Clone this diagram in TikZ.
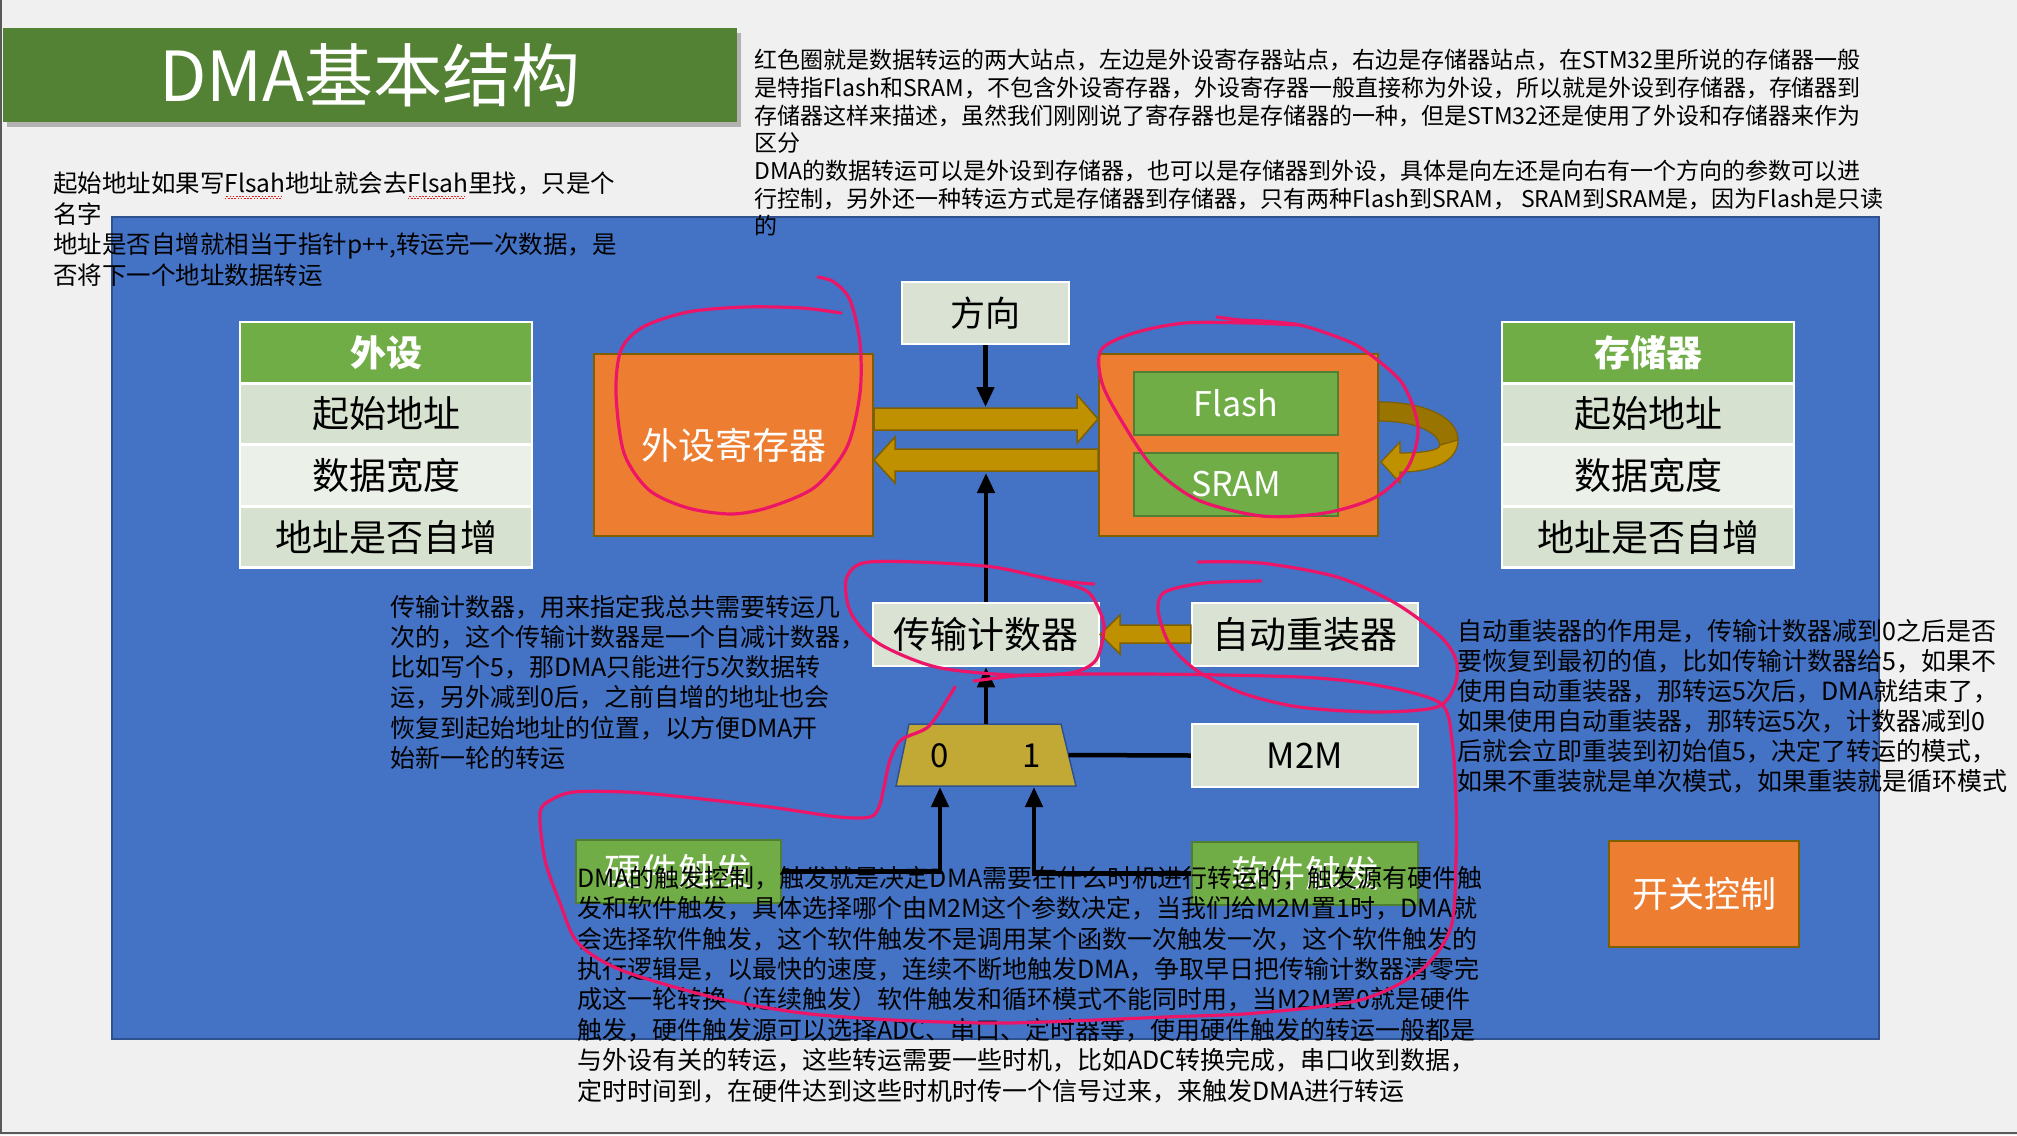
\documentclass[tikz,border=0pt]{standalone}
\usepackage{fontspec}
\setmainfont{Noto Sans CJK SC}
\usetikzlibrary{arrows.meta}
\definecolor{bgc}{HTML}{F0F0F0}
\definecolor{mainblue}{HTML}{4472C4}
\definecolor{blueborder}{HTML}{2F528F}
\definecolor{orangec}{HTML}{ED7D31}
\definecolor{brownb}{HTML}{7F6000}
\definecolor{greenc}{HTML}{70AD47}
\definecolor{greenb}{HTML}{507E32}
\definecolor{titleg}{HTML}{548235}
\definecolor{lightg}{HTML}{DAE3D3}
\definecolor{rowa}{HTML}{D6E2CF}
\definecolor{rowb}{HTML}{EBF0E8}
\definecolor{goldc}{HTML}{BF9000}
\definecolor{goldd}{HTML}{9A7400}
\definecolor{muxc}{HTML}{C2A936}
\definecolor{redpen}{HTML}{EC1567}
\definecolor{sqred}{HTML}{E02020}
\newsavebox\sqbox
\newcommand\sqg[1]{\sbox\sqbox{#1}\rlap{\textcolor{sqred}{\raisebox{-6pt}{\leaders\hbox{\rule{1.6pt}{1pt}\raisebox{1.4pt}{\rule{1.6pt}{1pt}}}\hskip\wd\sqbox}}}#1}
\begin{document}
\begin{tikzpicture}[x=1pt,y=-1pt,
  lbox/.style={draw=white,line width=2.5,fill=lightg,inner sep=0,minimum width=226,minimum height=63,font=\fontsize{37}{40}\selectfont},
  obox/.style={draw=brownb,line width=2,fill=orangec,inner sep=0,text=white},
  gbox/.style={draw=greenb,line width=2,fill=greenc,inner sep=0,text=white},
  cell/.style={draw=white,line width=2.5,inner sep=0,minimum width=292,minimum height=61,font=\fontsize{37}{40}\selectfont},
  hcell/.style={cell,fill=greenc,text=white,font=\fontsize{36}{40}\selectfont\bfseries},
  para/.style={anchor=north west,align=left,inner sep=0,text=black},
  blk/.style={line width=4.5,draw=black},
  arr/.style={blk,-{Triangle[length=20pt,width=17pt]}},
  band/.style={fill=goldc,draw=brownb,line width=1.5,line join=miter},
  pen/.style={draw=redpen,line width=3.2,line cap=round,line join=round},
]
\useasboundingbox (0,0) rectangle (2017,1135);
\fill[bgc] (0,0) rectangle (2017,1135);
\draw[black!65,line width=2] (1,0) -- (1,1133) -- (2017,1133);

% title
\fill[black!30] (7,33) rectangle (741,127);
\node[fill=titleg,minimum width=734,minimum height=94,inner sep=0,text=white,font=\fontsize{69}{80}\selectfont] (title) at (370,75) {DMA基本结构};

% main panel
\node[fill=mainblue,draw=blueborder,line width=1.5,minimum width=1767,minimum height=822,inner sep=0] (panel) at (995.5,628) {};

% left table
\node[hcell] (lt0) at (386,352.5) {外设};
\node[cell,fill=rowa] (lt1) at (386,414) {起始地址};
\node[cell,fill=rowb] (lt2) at (386,475.5) {数据宽度};
\node[cell,fill=rowa] (lt3) at (386,537) {地址是否自增};
% right table
\node[hcell] (rt0) at (1648,352.5) {存储器};
\node[cell,fill=rowa] (rt1) at (1648,414) {起始地址};
\node[cell,fill=rowb] (rt2) at (1648,475.5) {数据宽度};
\node[cell,fill=rowa] (rt3) at (1648,537) {地址是否自增};

% boxes
\node[obox,minimum width=279,minimum height=182,font=\fontsize{37}{40}\selectfont] (perreg) at (733.5,445) {外设寄存器};
\node[lbox,minimum width=167,minimum height=62,font=\fontsize{35}{40}\selectfont] (dir) at (985.5,313) {方向};
\node[obox,minimum width=279,minimum height=182] (mem) at (1238.5,445) {};
\node[gbox,minimum width=204,minimum height=63,font=\fontsize{34}{40}\selectfont] (flash) at (1236,403.5) {Flash};
\node[gbox,minimum width=204,minimum height=63,font=\fontsize{34}{40}\selectfont] (sram) at (1236,484.5) {SRAM};
\node[lbox] (counter) at (986,634.5) {传输计数器};
\node[lbox] (reload) at (1305,634.5) {自动重装器};
\node[lbox,font=\fontsize{35}{40}\selectfont] (m2m) at (1305,755.5) {M2M};
\node[gbox,minimum width=205,minimum height=63,font=\fontsize{37}{40}\selectfont] (hw) at (678.5,871.5) {硬件触发};
\node[gbox,minimum width=226,minimum height=63,font=\fontsize{37}{40}\selectfont] (sw) at (1305,873.5) {软件触发};
\node[obox,minimum width=190,minimum height=106,font=\fontsize{36}{40}\selectfont] (switch) at (1704,894) {开关控制};

% block arrows
\filldraw[band] (perreg.east |- 0,408) -- (1077,408) -- (1077,395) -- (mem.west |- 0,419) -- (1077,443) -- (1077,430) -- (perreg.east |- 0,430) -- cycle;
\filldraw[band] (mem.west |- 0,449) -- (895,449) -- (895,437) -- (perreg.east |- 0,460) -- (895,483) -- (895,471) -- (mem.west |- 0,471) -- cycle;
\filldraw[band] (reload.west |- 0,625) -- (1120,625) -- (1120,615) -- (counter.east) -- (1120,654) -- (1120,643) -- (reload.west |- 0,643) -- cycle;
% curved arrow on memory
\filldraw[fill=goldd,draw=brownb,line width=1.2] (1379,402) .. controls (1430,402) and (1458,420) .. (1458,440) -- (1440,445) .. controls (1438,432) and (1415,421) .. (1379,421) -- cycle;
\filldraw[band,line width=1.2] (1458,440) .. controls (1458,460) and (1435,472) .. (1400,472) -- (1400,483) -- (1381,462) -- (1400,442) -- (1400,453) .. controls (1425,453) and (1440,450) .. (1440,445) -- cycle;

% mux
\filldraw[fill=muxc,draw=blueborder,line width=1.5] (909,724) -- (1061,724) -- (1076,786) -- (896,786) -- cycle;
\coordinate (muxtop) at (986,724);
\coordinate (muxright) at (1068.5,755);
\coordinate (mux0) at (940,787);
\coordinate (mux1) at (1034,787);
\node[font=\fontsize{33}{36}\selectfont,inner sep=0] (m0) at (940,756) {0};
\node[font=\fontsize{33}{36}\selectfont,inner sep=0] (m1) at (1032,756) {1};

% connectors
\coordinate (rtop) at (985.5,407);
\coordinate (lbot) at (986,473);
\draw[arr] (dir.south) -- (rtop);
\draw[arr] (counter.north) -- (lbot);
\draw[arr] (muxtop) -- (counter.south);
\draw[blk] (muxright) -- (m2m.west);
\draw[arr] (hw.east) -| (mux0);
\draw[arr] (sw.west) -| (mux1);

% paragraphs
\node[para,font=\fontsize{23}{27.7}\selectfont] (ptop) at (754,49) {红色圈就是数据转运的两大站点，左边是外设寄存器站点，右边是存储器站点，在STM32里所说的存储器一般\\是特指Flash和SRAM，不包含外设寄存器，外设寄存器一般直接称为外设，所以就是外设到存储器，存储器到\\存储器这样来描述，虽然我们刚刚说了寄存器也是存储器的一种，但是STM32还是使用了外设和存储器来作为\\区分\\DMA的数据转运可以是外设到存储器，也可以是存储器到外设，具体是向左还是向右有一个方向的参数可以进\\行控制，另外还一种转运方式是存储器到存储器，只有两种Flash到SRAM， SRAM到SRAM是，因为Flash是只读\\的};
\node[para,font=\fontsize{24.5}{30.4}\selectfont] (pleft) at (53,172) {起始地址如果写\sqg{Flsah}地址就会去\sqg{Flsah}里找，只是个\\名字\\地址是否自增就相当于指针p++,转运完一次数据，是\\否将下一个地址数据转运};
\node[para,font=\fontsize{25}{30.2}\selectfont] (pcount) at (390,595) {传输计数器，用来指定我总共需要转运几\\次的，这个传输计数器是一个自减计数器，\\比如写个5，那DMA只能进行5次数据转\\运，另外减到0后，之前自增的地址也会\\恢复到起始地址的位置，以方便DMA开\\始新一轮的转运};
\node[para,font=\fontsize{25}{30.1}\selectfont] (preload) at (1457,619) {自动重装器的作用是，传输计数器减到0之后是否\\要恢复到最初的值，比如传输计数器给5，如果不\\使用自动重装器，那转运5次后，DMA就结束了，\\如果使用自动重装器，那转运5次，计数器减到0\\后就会立即重装到初始值5，决定了转运的模式，\\如果不重装就是单次模式，如果重装就是循环模式};
\node[para,font=\fontsize{25}{30.4}\selectfont] (ptrig) at (577,866) {DMA的触发控制，触发就是决定DMA需要在什么时机进行转运的，触发源有硬件触\\发和软件触发，具体选择哪个由M2M这个参数决定，当我们给M2M置1时，DMA就\\会选择软件触发，这个软件触发不是调用某个函数一次触发一次，这个软件触发的\\执行逻辑是，以最快的速度，连续不断地触发DMA，争取早日把传输计数器清零完\\成这一轮转换（连续触发）软件触发和循环模式不能同时用，当M2M置0就是硬件\\触发，硬件触发源可以选择ADC、串口、定时器等，使用硬件触发的转运一般都是\\与外设有关的转运，这些转运需要一些时机，比如ADC转换完成，串口收到数据，\\定时时间到，在硬件达到这些时机时传一个信号过来，来触发DMA进行转运};

% red pen annotations
\draw[pen] plot[smooth] coordinates {(818,277) (834,282) (850,300) (860,343) (860,393) (847,447) (815,487) (770,507) (732,514) (688,508) (649,490) (624,453) (616,393) (621,350) (643,327) (688,312) (745,307) (802,308) (841,313)};
\draw[pen] plot[smooth] coordinates {(1217,317) (1240,320) (1262,321) (1300,325) (1340,338) (1364,350) (1402,383) (1418,427) (1408,467) (1376,497) (1325,513) (1262,516) (1198,500) (1153,467) (1121,420) (1102,383) (1101,350) (1134,333) (1185,323) (1249,323) (1300,325)};
\draw[pen] plot[smooth] coordinates {(1094,584) (1054,580) (993,567) (917,562) (863,563) (846,580) (851,613) (878,643) (936,667) (1012,675) (1070,673) (1096,660) (1104,627) (1096,603) (1085,590) (1054,580) (1031,575)};
\draw[pen] plot[smooth] coordinates {(1261,581) (1204,583) (1165,592) (1158,610) (1169,643) (1196,670) (1242,693) (1299,707) (1376,712) (1437,707) (1455,685) (1456,660) (1440,636) (1395,603) (1337,577) (1261,563) (1198,562)};
\draw[pen] plot[smooth] coordinates {(974,681) (1031,675) (1146,674) (1299,677) (1376,685) (1440,703) (1452,740) (1456,800) (1456,860) (1451,927) (1421,970) (1360,1000) (1257,1013) (1166,1017) (1045,1022) (984,1023) (893,1020) (802,1013) (712,997) (621,970) (578,943) (560,903) (545,860) (540,813) (551,800) (574,792) (626,792) (684,797) (770,807) (839,817) (870,817) (879,807) (884,787) (890,760) (901,740) (928,727) (947,700) (955,687)};
\end{tikzpicture}
\end{document}
